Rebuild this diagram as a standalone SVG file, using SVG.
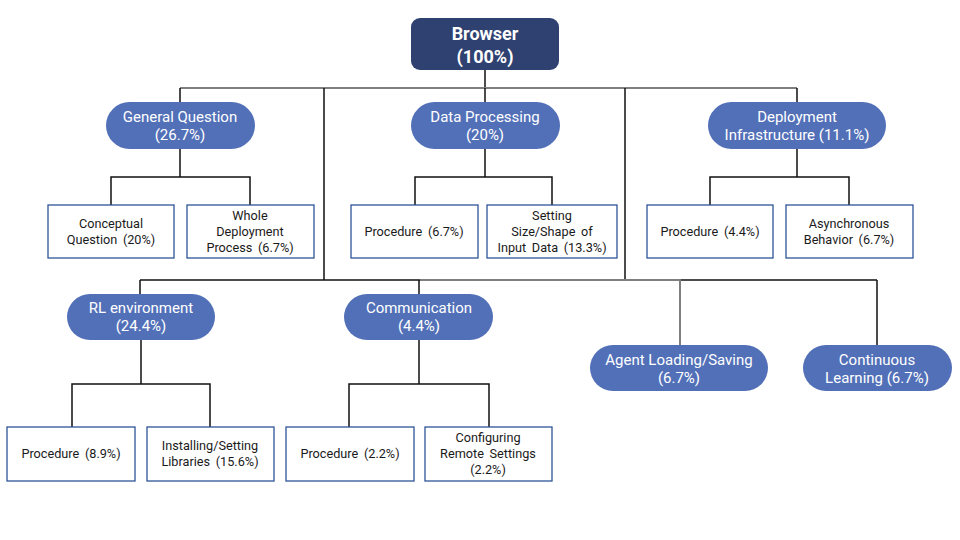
<svg xmlns="http://www.w3.org/2000/svg" width="960" height="540" viewBox="0 0 960 540">
<style>
.pill{fill:#5270B8;}
.pt{font-family:Roboto,"Liberation Sans",sans-serif;font-size:15px;fill:#ffffff;text-anchor:middle;}
.box{fill:#ffffff;stroke:#2F5597;stroke-width:1.3;}
.bt{font-family:Roboto,"Liberation Sans",sans-serif;font-size:12.7px;word-spacing:2.5px;fill:#1a1a1a;text-anchor:middle;}
.ln{fill:none;stroke:#111111;stroke-width:1.5;}
.lg{fill:none;stroke:#7F7F7F;stroke-width:2;}
</style>
<rect width="960" height="540" fill="#ffffff"/>
<g id="connectors">
  <path class="ln" d="M485 70V88"/>
  <path class="lg" d="M180 88H797"/>
  <path class="ln" d="M180 88V102M485 88V102M797 88V102"/>
  <path class="ln" d="M324 88V280M625 88V280"/>
  <path class="ln" d="M140 280H877"/>
  <path class="lg" d="M420 280H680V345"/>
  <path class="ln" d="M140 280V294M419 280V294M877 280V345"/>
  <path class="ln" d="M180 149V177M111 205V177H250V205"/>
  <path class="ln" d="M485 149V177M415 205V177H552V205"/>
  <path class="ln" d="M797 149V177M710 205V177H849V205"/>
  <path class="ln" d="M141 340V384M72 427V384H210V427"/>
  <path class="ln" d="M419 340V384M349 427V384H489V427"/>
</g>
<g id="browser">
  <rect x="411" y="18" width="148" height="52" rx="9" fill="#2F4170"/>
  <text x="485" y="40" font-family="Roboto,'Liberation Sans',sans-serif" font-size="18" font-weight="bold" fill="#ffffff" text-anchor="middle">Browser</text>
  <text x="485" y="63" font-family="Roboto,'Liberation Sans',sans-serif" font-size="18" font-weight="bold" fill="#ffffff" text-anchor="middle">(100%)</text>
</g>
<g id="general-question">
  <rect class="pill" x="106" y="102" width="149" height="47" rx="23.5"/>
  <text class="pt" x="180" y="122">General Question</text>
  <text class="pt" x="180" y="140">(26.7%)</text>
</g>
<g id="data-processing">
  <rect class="pill" x="411" y="102" width="149" height="47" rx="23.5"/>
  <text class="pt" x="485" y="122">Data Processing</text>
  <text class="pt" x="485" y="140">(20%)</text>
</g>
<g id="deployment-infrastructure">
  <rect class="pill" x="708" y="102" width="178" height="47" rx="23.5"/>
  <text class="pt" x="797" y="122">Deployment</text>
  <text class="pt" x="797" y="140">Infrastructure (11.1%)</text>
</g>
<g id="conceptual-question">
  <rect class="box" x="48" y="205" width="126" height="53"/>
  <text class="bt" x="111" y="228">Conceptual</text>
  <text class="bt" x="111" y="244">Question (20%)</text>
</g>
<g id="whole-deployment">
  <rect class="box" x="187" y="205" width="127" height="53"/>
  <text class="bt" x="250" y="220">Whole</text>
  <text class="bt" x="250" y="236">Deployment</text>
  <text class="bt" x="250" y="252">Process (6.7%)</text>
</g>
<g id="dp-procedure">
  <rect class="box" x="351" y="205" width="127" height="53"/>
  <text class="bt" x="414" y="236">Procedure (6.7%)</text>
</g>
<g id="setting-size">
  <rect class="box" x="487" y="205" width="130" height="53"/>
  <text class="bt" x="552" y="220">Setting</text>
  <text class="bt" x="552" y="236">Size/Shape of</text>
  <text class="bt" x="552" y="252">Input Data (13.3%)</text>
</g>
<g id="di-procedure">
  <rect class="box" x="647" y="205" width="126" height="53"/>
  <text class="bt" x="710" y="236">Procedure (4.4%)</text>
</g>
<g id="async-behavior">
  <rect class="box" x="786" y="205" width="127" height="53"/>
  <text class="bt" x="849" y="228">Asynchronous</text>
  <text class="bt" x="849" y="244">Behavior (6.7%)</text>
</g>
<g id="rl-environment">
  <rect class="pill" x="67" y="294" width="148" height="46" rx="23"/>
  <text class="pt" x="141" y="313">RL environment</text>
  <text class="pt" x="141" y="331">(24.4%)</text>
</g>
<g id="communication">
  <rect class="pill" x="344" y="294" width="149" height="46" rx="23"/>
  <text class="pt" x="419" y="313">Communication</text>
  <text class="pt" x="419" y="331">(4.4%)</text>
</g>
<g id="agent-loading">
  <rect class="pill" x="590" y="345" width="178" height="46" rx="23"/>
  <text class="pt" x="679" y="365">Agent Loading/Saving</text>
  <text class="pt" x="679" y="383">(6.7%)</text>
</g>
<g id="continuous-learning">
  <rect class="pill" x="803" y="345" width="149" height="46" rx="23"/>
  <text class="pt" x="877" y="365">Continuous</text>
  <text class="pt" x="877" y="383">Learning (6.7%)</text>
</g>
<g id="rl-procedure">
  <rect class="box" x="7" y="427" width="128" height="54"/>
  <text class="bt" x="71" y="458">Procedure (8.9%)</text>
</g>
<g id="installing-libraries">
  <rect class="box" x="147" y="427" width="127" height="54"/>
  <text class="bt" x="210" y="450">Installing/Setting</text>
  <text class="bt" x="210" y="466">Libraries (15.6%)</text>
</g>
<g id="comm-procedure">
  <rect class="box" x="286" y="427" width="128" height="54"/>
  <text class="bt" x="350" y="458">Procedure (2.2%)</text>
</g>
<g id="configuring-remote">
  <rect class="box" x="425" y="427" width="127" height="54"/>
  <text class="bt" x="488" y="442">Configuring</text>
  <text class="bt" x="488" y="458">Remote Settings</text>
  <text class="bt" x="488" y="474">(2.2%)</text>
</g>
</svg>
